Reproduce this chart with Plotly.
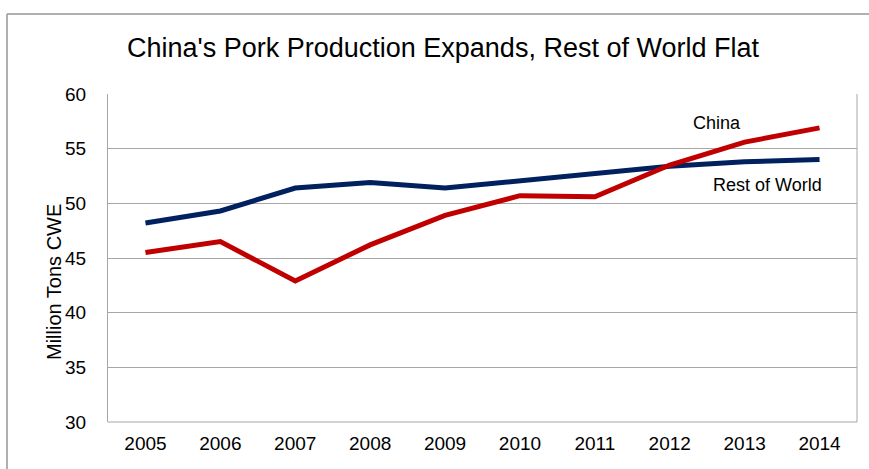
import plotly.graph_objects as go

# --- data ------------------------------------------------------------------
YEARS = ["2005", "2006", "2007", "2008", "2009", "2010", "2011", "2012", "2013", "2014"]
CHINA = [45.5, 46.5, 42.9, 46.2, 48.9, 50.7, 50.6, 53.5, 55.6, 56.9]
REST_OF_WORLD = [48.2, 49.3, 51.4, 51.9, 51.4, 52.1, 52.8, 53.4, 53.8, 54.0]

TITLE = "China's Pork Production Expands, Rest of World Flat"
Y_TITLE = "Million Tons CWE"

RED = "#C00000"
NAVY = "#002060"
GRID = "#A6A6A6"
FONT = "Liberation Sans, Arial, sans-serif"

fig = go.Figure()
fig.add_trace(go.Scatter(x=YEARS, y=REST_OF_WORLD, mode="lines", name="Rest of World",
                         line=dict(color=NAVY, width=5)))
fig.add_trace(go.Scatter(x=YEARS, y=CHINA, mode="lines", name="China",
                         line=dict(color=RED, width=5)))

fig.update_layout(
    width=869, height=469,
    margin=dict(l=108, r=12, t=94, b=47),
    plot_bgcolor="white", paper_bgcolor="white",
    showlegend=False,
    font=dict(family=FONT, color="#000000", size=18),
    title=dict(text=TITLE, x=443 / 869, xanchor="center", y=1 - 48 / 469, yanchor="middle",
               font=dict(size=27, family=FONT, color="#000000")),
)
fig.update_xaxes(type="category", range=[-0.5, len(YEARS) - 0.5], showgrid=False,
                 showline=False, ticks="", tickfont=dict(size=19), ticklabelstandoff=8)
fig.update_yaxes(range=[30, 60], dtick=5, showgrid=True, gridcolor=GRID, gridwidth=1,
                 showline=True, linecolor=GRID, linewidth=1, zeroline=False, ticks="",
                 tickfont=dict(size=19), ticklabelstandoff=17)

# bottom and right edges of the plot area
fig.add_shape(type="line", xref="paper", yref="paper", x0=0, x1=1, y0=0, y1=0,
              line=dict(color=GRID, width=1))
fig.add_shape(type="line", xref="paper", yref="paper", x0=1, x1=1, y0=0, y1=1,
              line=dict(color=GRID, width=1))

# outer chart border (top and left visible in the crop)
fig.add_shape(type="line", xref="paper", yref="paper",
              x0=-101 / 749, x1=12 / 749 + 1, y0=1 + 80 / 328, y1=1 + 80 / 328,
              line=dict(color="#969696", width=1.5))
fig.add_shape(type="line", xref="paper", yref="paper",
              x0=-101 / 749, x1=-101 / 749, y0=1 + 80 / 328, y1=-48 / 328,
              line=dict(color="#969696", width=1.5))

fig.add_annotation(text=Y_TITLE, xref="paper", yref="paper", x=-54 / 749, xanchor="center",
                   y=(421 - 281) / 328, yanchor="middle", textangle=-90, showarrow=False,
                   font=dict(size=20))
i2013 = YEARS.index("2013")
fig.add_annotation(text="China", x=i2013, y=57.35, xshift=-28, showarrow=False,
                   font=dict(size=18))
fig.add_annotation(text="Rest of World", x=i2013, y=51.7, xshift=23, showarrow=False,
                   font=dict(size=18))

# drop the browser's default 8px body margin so the figure sits at the page origin
fig.write_html("out.html", config={"displayModeBar": False},
               post_script="document.body.style.margin='0';")
